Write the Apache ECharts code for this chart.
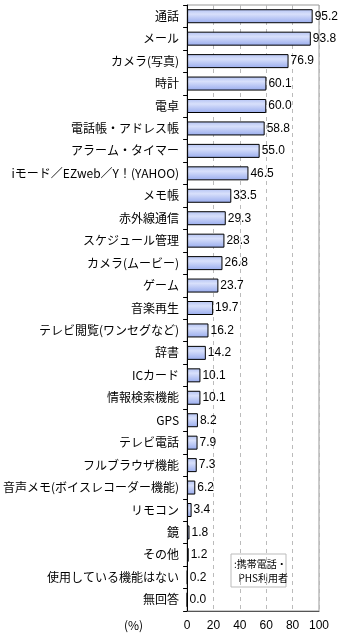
<!DOCTYPE html>
<html>
<head>
<meta charset="utf-8">
<script src="https://cdn.jsdelivr.net/npm/echarts@6/dist/echarts.min.js"></script>
<style>
html,body{margin:0;padding:0;background:#fff;}
#chart{width:340px;height:642px;}
</style>
</head>
<body>
<div id="chart"></div>
<script>
const categories = [
  '通話','メール','カメラ(写真)','時計','電卓','電話帳・アドレス帳','アラーム・タイマー',
  'iモード／EZweb／Y！(YAHOO)','メモ帳','赤外線通信','スケジュール管理','カメラ(ムービー)',
  'ゲーム','音楽再生','テレビ閲覧(ワンセグなど)','辞書','ICカード','情報検索機能','GPS',
  'テレビ電話','フルブラウザ機能','音声メモ(ボイスレコーダー機能)','リモコン','鏡','その他',
  '使用している機能はない','無回答'
];
const values = [95.2,93.8,76.9,60.1,60.0,58.8,55.0,46.5,33.5,29.3,28.3,26.8,23.7,19.7,16.2,14.2,10.1,10.1,8.2,7.9,7.3,6.2,3.4,1.8,1.2,0.2,0.0];
const xTicks = [0,20,40,60,80,100];
const seriesName = ':携帯電話・\n  PHS利用者';
const unitLabel = '(%)';

const chart = echarts.init(document.getElementById('chart'), null, {renderer:'canvas'});
const jp = '"Noto Sans CJK JP", sans-serif';
const num = '"Liberation Sans", Arial, sans-serif';
chart.setOption({
  animation:false,
  grid:{left:166,right:21,top:5,bottom:31,show:true,borderColor:'#999',borderWidth:1},
  xAxis:{
    type:'value',min:xTicks[0],max:xTicks[xTicks.length-1],interval:20,
    axisLine:{show:true,lineStyle:{color:'#555'}},
    axisTick:{show:false},
    axisLabel:{fontFamily:num,fontSize:12,color:'#000',margin:9,
      formatter:v=>xTicks.indexOf(v)>=0?String(v):''},
    splitLine:{show:true,lineStyle:{color:'#bbb',type:[4,4]}}
  },
  yAxis:{
    type:'category',data:categories,inverse:true,
    axisLine:{show:true,lineStyle:{color:'#000'}},
    axisTick:{show:true,length:4,lineStyle:{color:'#000'}},
    axisLabel:{fontFamily:jp,fontSize:12,color:'#000',margin:8}
  },
  series:[{
    name:seriesName,type:'bar',data:values,barWidth:14,
    itemStyle:{
      borderColor:'#000',borderWidth:1,
      color:new echarts.graphic.LinearGradient(0,0,0,1,[
        {offset:0,color:'#b3c2f3'},
        {offset:0.35,color:'#d8e0fb'},
        {offset:1,color:'#98abed'}
      ])
    },
    label:{show:true,position:'right',distance:2,fontFamily:num,fontSize:12,color:'#000',
      formatter:p=>p.value.toFixed(1)}
  }],
  graphic:[
    {type:'rect',shape:{x:231,y:554,width:55,height:33},style:{fill:'#fff',stroke:'#bbb',lineWidth:1}},
    {type:'text',left:234,top:557,style:{text:seriesName,font:'10px "Noto Sans CJK JP"',fill:'#000',lineHeight:14}},
    {type:'text',left:124,top:619,style:{text:unitLabel,font:'12px "Noto Sans CJK JP"',fill:'#000'}}
  ]
});
</script>
</body>
</html>
